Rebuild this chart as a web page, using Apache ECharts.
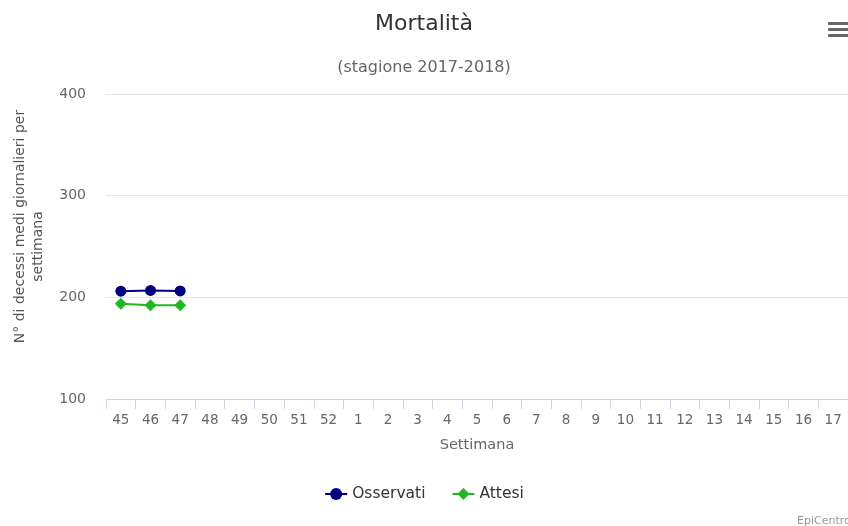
<!DOCTYPE html>
<html>
<head>
<meta charset="utf-8">
<script src="https://cdn.jsdelivr.net/npm/echarts@6/dist/echarts.min.js"></script>
<style>html,body{margin:0;padding:0;background:#fff}#c{width:848px;height:526px}</style>
</head>
<body>
<div id="c"></div>
<script>
var weeks = ['45','46','47','48','49','50','51','52','1','2','3','4','5','6','7','8','9','10','11','12','13','14','15','16','17'];
var osservati = [206, 206.8, 206.3];
var attesi = [193.8, 192.2, 192.2];
var yTicks = {min: 100, max: 400, interval: 100};
var FONT = 'DejaVu Sans';
var chart = echarts.init(document.getElementById('c'), null, {renderer: 'canvas'});
chart.setOption({
  animation: false,
  textStyle: {fontFamily: FONT},
  title: [
    {text: 'Mortalità', left: 'center', top: 8, textStyle: {fontFamily: FONT, fontSize: 22, fontWeight: 'normal', color: '#333'}},
    {text: '(stagione 2017-2018)', left: 'center', top: 55, textStyle: {fontFamily: FONT, fontSize: 16, fontWeight: 'normal', color: '#666'}}
  ],
  graphic: [
    {type: 'rect', left: 828, top: 22, shape: {width: 22, height: 3, r: 1}, style: {fill: '#666'}},
    {type: 'rect', left: 828, top: 28, shape: {width: 22, height: 3, r: 1}, style: {fill: '#666'}},
    {type: 'rect', left: 828, top: 34, shape: {width: 22, height: 3, r: 1}, style: {fill: '#666'}},
    {type: 'text', left: 797, top: 516, style: {text: 'EpiCentro', fill: '#999', font: '11px ' + FONT}}
  ],
  legend: {
    bottom: 19, left: 'center', itemGap: 26, itemWidth: 22, itemHeight: 15,
    textStyle: {fontFamily: FONT, fontSize: 15.5, color: '#333'},
    data: ['Osservati', 'Attesi']
  },
  grid: {left: 106, right: -3, top: 94, bottom: 127, containLabel: false},
  xAxis: {
    type: 'category', data: weeks, boundaryGap: true,
    name: 'Settimana', nameLocation: 'middle', nameGap: 39,
    nameTextStyle: {fontFamily: FONT, fontSize: 14.5, color: '#666'},
    axisLine: {lineStyle: {color: '#ccd6eb', width: 1}},
    axisTick: {show: true, alignWithLabel: false, length: 10, lineStyle: {color: '#ccd6eb'}},
    axisLabel: {fontFamily: FONT, fontSize: 13.5, color: '#666', margin: 14},
    splitLine: {show: false}
  },
  yAxis: {
    type: 'value', min: yTicks.min, max: yTicks.max, interval: yTicks.interval,
    name: '{a|N° di decessi medi giornalieri per}\n{b|settimana}', nameLocation: 'middle', nameGap: 59, nameRotate: 90,
    nameTextStyle: {fontFamily: FONT, fontSize: 14, color: '#555', lineHeight: 18, align: 'center',
      rich: {a: {fontFamily: FONT, fontSize: 14, color: '#555', lineHeight: 18, padding: [0, 0, 0, 40]},
             b: {fontFamily: FONT, fontSize: 14, color: '#555', lineHeight: 18}}},
    axisLine: {show: false}, axisTick: {show: false},
    axisLabel: {fontFamily: FONT, fontSize: 14, color: '#666', margin: 20},
    splitLine: {lineStyle: {color: '#e6e6e6', width: 1}}
  },
  series: [
    {name: 'Osservati', type: 'line', data: osservati, symbol: 'circle', symbolSize: 11,
     itemStyle: {color: '#000080'}, lineStyle: {color: '#000080', width: 2}, showAllSymbol: true},
    {name: 'Attesi', type: 'line', data: attesi, symbol: 'diamond', symbolSize: 12,
     itemStyle: {color: '#22b622'}, lineStyle: {color: '#22b622', width: 2}, showAllSymbol: true}
  ]
});
</script>
</body>
</html>
